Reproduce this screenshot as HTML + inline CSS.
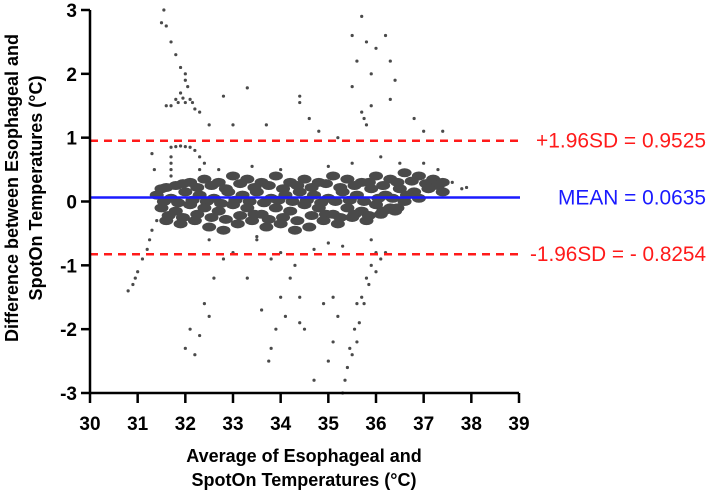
<!DOCTYPE html>
<html><head><meta charset="utf-8"><style>
body{margin:0;background:#fff;}
svg text{font-family:"Liberation Sans",sans-serif;}
</style></head><body>
<svg id="chart" width="708" height="495" viewBox="0 0 708 495">
<g id="marks"></g>
<g id="axes"></g>
</svg>
<script>
const xTicks=[30,31,32,33,34,35,36,37,38,39];
const yTicks=[3,2,1,0,-1,-2,-3];
const meanValue=0.0635, upperLoA=0.9525, lowerLoA=-0.8254;
const bandPoints=[[31.5,.2],[31.8,.25],[32.1,.3],[32.4,.35],[32.7,.3],[33.0,.4],[33.3,.35],[33.6,.3],[33.9,.4],[34.2,.3],[34.5,.35],[34.8,.3],[35.1,.4],[35.4,.35],[35.7,.3],[36.0,.4],[36.3,.35],[36.6,.45],[36.9,.4],[37.2,.35],[37.4,.3],
[31.6,.22],[31.95,.28],[32.25,.22],[32.55,.25],[32.85,.2],[33.15,.28],[33.45,.22],[33.75,.25],[34.05,.2],[34.35,.25],[34.65,.22],[34.95,.28],[35.25,.22],[35.55,.25],[35.85,.3],[36.15,.25],[36.45,.3],[36.75,.32],[37.05,.28],[37.3,.25],
[31.4,.1],[31.7,.05],[32.0,.15],[32.3,.1],[32.6,.05],[32.9,.15],[33.2,.1],[33.5,.15],[33.8,.05],[34.1,.1],[34.4,.15],[34.7,.1],[35.0,.05],[35.3,.15],[35.6,.1],[35.9,.2],[36.2,.1],[36.5,.2],[36.8,.15],[37.1,.2],[37.4,.15],
[31.55,0],[31.85,-.02],[32.15,.02],[32.45,0],[32.75,-.03],[33.05,.02],[33.35,0],[33.65,-.02],[33.95,.02],[34.25,0],[34.55,.02],[34.85,-.02],[35.15,0],[35.45,.02],[35.75,0],[36.05,.05],[36.35,.05],[36.65,.1],
[31.5,-.1],[31.8,-.15],[32.1,-.05],[32.4,-.1],[32.7,-.15],[33.0,-.05],[33.3,-.1],[33.6,-.2],[33.9,-.1],[34.2,-.15],[34.5,-.05],[34.8,-.1],[35.1,-.2],[35.4,-.1],[35.7,-.15],[36.0,-.05],[36.3,-.1],[36.6,0.0],[36.9,0.05],
[31.65,-.22],[31.95,-.25],[32.25,-.2],[32.55,-.25],[32.85,-.28],[33.15,-.22],[33.45,-.2],[33.75,-.28],[34.05,-.25],[34.35,-.3],[34.65,-.22],[34.95,-.2],[35.25,-.25],[35.55,-.2],[35.85,-.22],[36.15,-.15],[36.45,-.1],
[31.6,-.3],[31.9,-.35],[32.2,-.3],[32.5,-.4],[32.8,-.45],[33.1,-.35],[33.4,-.3],[33.7,-.4],[34.0,-.35],[34.3,-.45],[34.6,-.4],[34.9,-.3],[35.2,-.35],[35.5,-.25],[35.8,-.3],[36.1,-.2],[36.4,-.15]];
const sparsePoints=[[32.5,-.6],[33.8,-.9],[34.0,-.8],[35.0,-.65],[35.3,-.7],[34.7,-.75],[33.5,-.55],[36.0,-.8],[35.9,-.6],[32.3,.5],[32.7,.5],[33.4,.55],[34.0,.5],[35.0,.55],[35.5,.6],[36.1,.7],[36.5,.6],[37.0,.6],[37.3,.5],[37.6,.3],[37.8,.2],[37.9,.22],
[31.7,.85],[31.8,.86],[31.9,.87],[32.0,.86],[32.1,.85],[32.2,.8],[32.3,.7],[32.4,.6],[31.7,.7],[31.7,.6],[31.7,.5],[31.7,.4],
[30.8,-1.4],[30.9,-1.3],[30.95,-1.2],[31.0,-1.1],[31.1,-.9],[31.2,-.75],[31.25,-.6],[31.3,-.45],[31.4,-.3],[31.35,.5],[31.3,.75],
[31.6,1.5],[31.8,1.6],[32.0,1.55],[32.1,1.6],[31.9,1.7],[32.0,1.9],[32.05,1.8],[31.7,1.5],[32.2,1.45],[31.85,1.55],[31.95,1.62],[32.15,1.55],
[31.5,2.8],[31.55,3.0],[31.6,2.75],[31.7,2.5],[31.8,2.3],[31.9,2.1],[32.0,2.0],
[35.5,2.6],[35.6,2.2],[35.7,2.9],[35.8,2.5],[35.9,2.0],[36.0,2.4],[36.2,2.6],[36.3,2.2],[36.4,1.9],[36.3,1.6],[35.8,1.2],[35.7,1.4],[35.5,1.8],[35.9,1.5],[35.75,1.3],
[32.8,1.65],[33.3,1.78],[34.4,1.65],[34.4,1.55],[33.7,1.2],[33.0,1.2],[34.6,1.3],[34.8,1.1],[35.2,1.0],[36.8,1.3],[37.0,1.1],[37.4,1.1],[32.5,1.2],[32.3,1.4],
[32.0,-2.3],[32.2,-2.4],[32.1,-2.0],[32.4,-1.6],[32.6,-1.2],[32.8,-.9],[33.0,-.8],[33.3,-1.2],[33.5,-.6],[33.75,-2.5],[33.8,-2.3],[34.0,-1.5],[34.2,-1.2],[34.4,-1.5],[34.4,-1.9],[34.3,-1.0],[34.7,-2.8],[34.9,-1.6],[35.0,-2.5],[35.1,-2.2],[35.2,-1.8],[35.3,-3.0],[35.4,-2.6],[35.55,-2.0],[35.7,-1.5],[35.9,-1.0],[36.1,-.9],[35.6,-1.6],[35.8,-1.2],[34.5,-2.0],[33.9,-2.0],[33.6,-1.7],[32.5,-1.8],[32.3,-2.1],[35.1,-1.5],[35.45,-2.3],[35.6,-2.2],[34.1,-1.8],
[35.35,-2.8],[35.5,-2.4],[35.65,-1.9],[35.75,-1.6],[35.85,-1.3],[36.0,-1.1],[36.2,-.8]];

const X0=90,X1=519,Y0=10,Y1=393;
const xs=v=>X0+(v-30)/(39-30)*(X1-X0);
const ys=v=>Y1-(v+3)/6*(Y1-Y0);
const NS='http://www.w3.org/2000/svg';
function mk(tag,attrs,parent,txt){const e=document.createElementNS(NS,tag);for(const k in attrs)e.setAttribute(k,attrs[k]);if(txt!==undefined)e.textContent=txt;parent.appendChild(e);return e;}
const marks=document.getElementById('marks'), axes=document.getElementById('axes');
bandPoints.forEach(p=>{const c=mk('ellipse',{cx:xs(p[0]),cy:ys(p[1]),rx:7,ry:4.5,fill:'#4a4a4a'},marks);

});
sparsePoints.forEach(p=>{const c=mk('circle',{cx:xs(p[0]),cy:ys(p[1]),r:1.6,fill:'#4a4a4a'},marks);

});
const lines=[[upperLoA,'#ff1a1a','8,6','+1.96SD = 0.9525','upper-limit'],[meanValue,'#1a1aff','','MEAN = 0.0635','mean'],[lowerLoA,'#ff1a1a','8,6','-1.96SD = - 0.8254','lower-limit']];
lines.forEach(l=>{const ln=mk('line',{x1:X0,x2:X1+1,y1:ys(l[0]),y2:ys(l[0]),stroke:l[1],'stroke-width':2.5,'stroke-dasharray':l[2]},axes);


const len=l[3].length>16?176:(l[3].length>14?170:148);
const t=mk('text',{x:706,y:ys(l[0])+7,'text-anchor':'end','font-size':21,fill:l[1],textLength:len,lengthAdjust:'spacingAndGlyphs'},axes,l[3]);

});
mk('line',{x1:X0,x2:X0,y1:Y0,y2:Y1,stroke:'#000','stroke-width':2.5},axes);
mk('line',{x1:X0,x2:X1,y1:Y1,y2:Y1,stroke:'#000','stroke-width':2.5},axes);
xTicks.forEach(v=>{mk('line',{x1:xs(v),x2:xs(v),y1:Y1,y2:Y1+10,stroke:'#000','stroke-width':2.5},axes);
const t=mk('text',{x:xs(v),y:430,'text-anchor':'middle','font-size':19,'font-weight':'bold'},axes,String(v));

});
yTicks.forEach(v=>{mk('line',{x1:X0-9,x2:X0,y1:ys(v),y2:ys(v),stroke:'#000','stroke-width':2.5},axes);
const t=mk('text',{x:X0-13,y:ys(v)+7,'text-anchor':'end','font-size':19,'font-weight':'bold'},axes,String(v));

});
const xt1=mk('text',{x:304,y:462,'text-anchor':'middle','font-size':18,'font-weight':'bold'},axes,'Average of Esophageal and');


const xt2=mk('text',{x:304,y:486,'text-anchor':'middle','font-size':18,'font-weight':'bold'},axes,'SpotOn Temperatures (°C)');


const yt1=mk('text',{x:0,y:0,'text-anchor':'middle','font-size':18,'font-weight':'bold',transform:'translate(18,188) rotate(-90)'},axes,'Difference between Esophageal and');


const yt2=mk('text',{x:0,y:0,'text-anchor':'middle','font-size':18,'font-weight':'bold',transform:'translate(42,188) rotate(-90)'},axes,'SpotOn Temperatures (°C)');


</script>
</body></html>
